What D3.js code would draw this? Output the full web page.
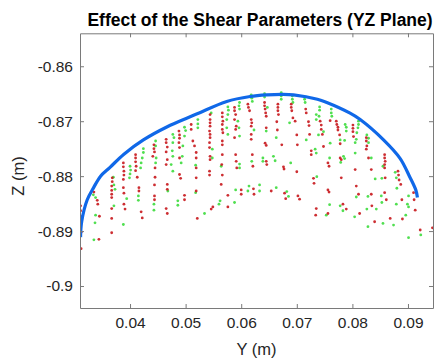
<!DOCTYPE html>
<html>
<head>
<meta charset="utf-8">
<script src="https://cdn.jsdelivr.net/npm/d3@7"></script>
<style>
  body { margin: 0; background: #fff; }
  svg text { font-family: "Liberation Sans", Arial, Helvetica, sans-serif; }
</style>
</head>
<body>
<svg id="chart" width="440" height="362"></svg>
<script>
// Axis ticks and labels
const xTicks = [0.04, 0.05, 0.06, 0.07, 0.08, 0.09];
const xTickLabels = ["0.04", "0.05", "0.06", "0.07", "0.08", "0.09"];
const yTicks = [-0.90, -0.89, -0.88, -0.87, -0.86];
const yTickLabels = ["-0.9", "-0.89", "-0.88", "-0.87", "-0.86"];
const xDomain = [0.031, 0.0945];
const yDomain = [-0.904, -0.854];

// Workspace boundary in the YZ plane, [Y, Z] in metres
const boundary = [
  [0.0311, -0.8911], [0.0313, -0.8883], [0.0323, -0.8843], [0.0335, -0.8820],
  [0.0347, -0.8800], [0.0364, -0.8784], [0.0389, -0.8760], [0.0424, -0.8734],
  [0.0467, -0.8710], [0.0503, -0.8694], [0.0522, -0.8686], [0.0574, -0.8664],
  [0.0616, -0.8655], [0.0646, -0.8652], [0.0675, -0.8651], [0.0694, -0.8652],
  [0.0737, -0.8660], [0.0754, -0.8666], [0.0795, -0.8685], [0.0814, -0.8697],
  [0.0856, -0.8734], [0.0886, -0.8768], [0.0903, -0.8801], [0.0914, -0.8825],
  [0.0917, -0.8839]
];

// Sampled positions, first shear parameter set (red)
const redPoints = [
  [0.0311, -0.8854], [0.0311, -0.8863], [0.0311, -0.8873], [0.0312, -0.8902], [0.0312, -0.8932],
  [0.0335, -0.8829], [0.0341, -0.8844], [0.0342, -0.8851], [0.0345, -0.8873], [0.0344, -0.8915],
  [0.0368, -0.8803], [0.0368, -0.8810], [0.0367, -0.8818], [0.0367, -0.8826], [0.0367, -0.8833],
  [0.0367, -0.8839], [0.0367, -0.8859], [0.0367, -0.8877], [0.0367, -0.8903],
  [0.0388, -0.8776], [0.0388, -0.8783], [0.0389, -0.8791], [0.0389, -0.8798], [0.0388, -0.8806],
  [0.0388, -0.8821], [0.0389, -0.8831], [0.0389, -0.8851], [0.0391, -0.8860],
  [0.0410, -0.8761], [0.0410, -0.8767], [0.0410, -0.8774], [0.0411, -0.8782], [0.0410, -0.8790],
  [0.0413, -0.8802], [0.0416, -0.8821], [0.0416, -0.8827], [0.0420, -0.8865], [0.0422, -0.8876],
  [0.0443, -0.8743], [0.0443, -0.8750], [0.0444, -0.8756], [0.0441, -0.8764], [0.0445, -0.8785],
  [0.0445, -0.8802], [0.0444, -0.8816], [0.0444, -0.8836], [0.0444, -0.8843],
  [0.0465, -0.8733], [0.0465, -0.8739], [0.0467, -0.8747], [0.0465, -0.8756], [0.0467, -0.8770],
  [0.0465, -0.8779], [0.0467, -0.8815], [0.0467, -0.8824], [0.0465, -0.8859], [0.0467, -0.8868],
  [0.0488, -0.8718], [0.0489, -0.8725], [0.0489, -0.8731], [0.0488, -0.8739], [0.0489, -0.8748],
  [0.0489, -0.8767], [0.0489, -0.8797], [0.0491, -0.8804], [0.0498, -0.8835], [0.0498, -0.8843],
  [0.0510, -0.8706], [0.0510, -0.8715], [0.0513, -0.8736], [0.0516, -0.8745], [0.0519, -0.8757],
  [0.0519, -0.8767], [0.0519, -0.8785], [0.0519, -0.8803], [0.0519, -0.8827], [0.0521, -0.8877],
  [0.0544, -0.8688], [0.0544, -0.8697], [0.0544, -0.8703], [0.0544, -0.8709], [0.0543, -0.8718],
  [0.0544, -0.8724], [0.0544, -0.8730], [0.0543, -0.8739], [0.0543, -0.8748], [0.0544, -0.8764],
  [0.0544, -0.8770], [0.0543, -0.8791], [0.0543, -0.8798], [0.0546, -0.8860], [0.0549, -0.8856],
  [0.0566, -0.8685], [0.0566, -0.8692], [0.0567, -0.8700], [0.0566, -0.8706], [0.0566, -0.8715],
  [0.0567, -0.8721], [0.0566, -0.8736], [0.0566, -0.8743], [0.0566, -0.8761], [0.0565, -0.8779],
  [0.0566, -0.8798], [0.0564, -0.8815], [0.0576, -0.8835], [0.0576, -0.8856],
  [0.0588, -0.8675], [0.0588, -0.8681], [0.0590, -0.8688], [0.0588, -0.8697], [0.0591, -0.8709],
  [0.0590, -0.8715], [0.0588, -0.8730], [0.0590, -0.8761], [0.0591, -0.8773], [0.0592, -0.8785],
  [0.0600, -0.8825], [0.0600, -0.8833],
  [0.0612, -0.8669], [0.0613, -0.8675], [0.0615, -0.8681], [0.0618, -0.8697], [0.0619, -0.8703],
  [0.0618, -0.8709], [0.0618, -0.8724], [0.0618, -0.8733], [0.0620, -0.8761], [0.0621, -0.8782],
  [0.0622, -0.8823], [0.0623, -0.8833],
  [0.0642, -0.8666], [0.0642, -0.8672], [0.0643, -0.8678], [0.0644, -0.8685], [0.0645, -0.8691],
  [0.0645, -0.8712], [0.0643, -0.8740], [0.0645, -0.8744], [0.0645, -0.8773], [0.0646, -0.8779],
  [0.0654, -0.8827],
  [0.0666, -0.8669], [0.0666, -0.8675], [0.0666, -0.8681], [0.0667, -0.8688], [0.0664, -0.8701],
  [0.0665, -0.8716], [0.0673, -0.8743], [0.0676, -0.8783], [0.0677, -0.8787], [0.0678, -0.8831],
  [0.0680, -0.8841],
  [0.0690, -0.8669], [0.0690, -0.8675], [0.0691, -0.8681], [0.0693, -0.8694], [0.0697, -0.8700],
  [0.0700, -0.8725], [0.0701, -0.8743], [0.0700, -0.8792], [0.0702, -0.8836], [0.0705, -0.8842],
  [0.0716, -0.8678], [0.0717, -0.8685], [0.0721, -0.8701], [0.0722, -0.8708], [0.0723, -0.8724],
  [0.0726, -0.8754], [0.0726, -0.8761], [0.0730, -0.8804], [0.0731, -0.8813], [0.0735, -0.8859],
  [0.0734, -0.8871],
  [0.0742, -0.8700], [0.0744, -0.8707], [0.0744, -0.8715], [0.0746, -0.8724], [0.0748, -0.8746],
  [0.0756, -0.8776], [0.0758, -0.8782], [0.0756, -0.8825], [0.0758, -0.8829], [0.0756, -0.8868],
  [0.0760, -0.8699], [0.0771, -0.8700], [0.0772, -0.8706], [0.0774, -0.8711], [0.0774, -0.8716],
  [0.0777, -0.8725], [0.0778, -0.8741], [0.0778, -0.8767], [0.0780, -0.8770], [0.0780, -0.8803],
  [0.0783, -0.8851], [0.0789, -0.8860],
  [0.0801, -0.8707], [0.0801, -0.8713], [0.0801, -0.8719], [0.0802, -0.8728], [0.0805, -0.8788],
  [0.0807, -0.8818], [0.0811, -0.8833], [0.0813, -0.8868],
  [0.0825, -0.8730], [0.0825, -0.8736], [0.0826, -0.8745], [0.0825, -0.8751], [0.0829, -0.8767],
  [0.0834, -0.8788], [0.0834, -0.8833], [0.0835, -0.8854], [0.0840, -0.8883],
  [0.0858, -0.8761], [0.0858, -0.8767], [0.0859, -0.8773], [0.0858, -0.8779], [0.0858, -0.8785],
  [0.0859, -0.8803], [0.0858, -0.8830], [0.0861, -0.8843], [0.0868, -0.8877],
  [0.0882, -0.8791], [0.0883, -0.8798], [0.0884, -0.8807], [0.0887, -0.8815], [0.0889, -0.8843],
  [0.0890, -0.8878],
  [0.0910, -0.8830], [0.0911, -0.8843], [0.0913, -0.8862], [0.0922, -0.8898], [0.0944, -0.8894]
];

// Sampled positions, second shear parameter set (green)
const greenPoints = [
  [0.0335, -0.8916], [0.0337, -0.8885], [0.0338, -0.8871], [0.0334, -0.8834], [0.0338, -0.8839],
  [0.0370, -0.8802], [0.0371, -0.8816], [0.0373, -0.8824], [0.0371, -0.8854],
  [0.0388, -0.8888], [0.0394, -0.8841],
  [0.0400, -0.8782], [0.0401, -0.8789], [0.0400, -0.8796], [0.0399, -0.8803],
  [0.0424, -0.8750], [0.0424, -0.8757], [0.0422, -0.8767], [0.0420, -0.8776], [0.0419, -0.8785],
  [0.0415, -0.8836], [0.0415, -0.8844],
  [0.0446, -0.8736], [0.0446, -0.8745], [0.0447, -0.8767], [0.0446, -0.8776], [0.0443, -0.8851],
  [0.0443, -0.8862],
  [0.0477, -0.8724], [0.0479, -0.8730], [0.0477, -0.8739], [0.0476, -0.8754], [0.0477, -0.8764],
  [0.0474, -0.8779], [0.0477, -0.8791], [0.0468, -0.8827],
  [0.0498, -0.8711], [0.0500, -0.8717], [0.0498, -0.8727], [0.0495, -0.8745], [0.0494, -0.8764],
  [0.0492, -0.8776], [0.0486, -0.8845], [0.0486, -0.8853],
  [0.0522, -0.8697], [0.0522, -0.8705], [0.0522, -0.8712], [0.0518, -0.8780], [0.0518, -0.8830],
  [0.0534, -0.8868],
  [0.0546, -0.8685], [0.0548, -0.8751], [0.0548, -0.8767], [0.0560, -0.8851], [0.0562, -0.8845],
  [0.0576, -0.8674], [0.0577, -0.8680], [0.0576, -0.8688], [0.0574, -0.8697], [0.0574, -0.8712],
  [0.0576, -0.8724], [0.0564, -0.8782], [0.0588, -0.8848], [0.0590, -0.8825],
  [0.0597, -0.8666], [0.0596, -0.8672], [0.0597, -0.8678], [0.0594, -0.8700], [0.0596, -0.8712],
  [0.0597, -0.8727], [0.0597, -0.8778], [0.0597, -0.8785],
  [0.0612, -0.8827], [0.0614, -0.8818], [0.0619, -0.8773], [0.0618, -0.8652], [0.0619, -0.8658],
  [0.0620, -0.8664], [0.0623, -0.8716],
  [0.0633, -0.8816], [0.0633, -0.8827], [0.0639, -0.8767], [0.0639, -0.8773],
  [0.0642, -0.8650], [0.0642, -0.8656], [0.0647, -0.8675], [0.0645, -0.8718],
  [0.0658, -0.8764], [0.0661, -0.8772], [0.0663, -0.8730], [0.0663, -0.8821],
  [0.0672, -0.8648], [0.0672, -0.8654], [0.0672, -0.8660],
  [0.0682, -0.8828], [0.0685, -0.8837], [0.0687, -0.8703], [0.0689, -0.8776],
  [0.0692, -0.8654], [0.0692, -0.8660], [0.0693, -0.8666],
  [0.0714, -0.8660], [0.0715, -0.8666], [0.0717, -0.8734],
  [0.0735, -0.8688], [0.0735, -0.8697], [0.0733, -0.8751], [0.0735, -0.8758], [0.0736, -0.8801],
  [0.0741, -0.8674], [0.0741, -0.8680], [0.0740, -0.8691], [0.0739, -0.8725], [0.0748, -0.8719],
  [0.0753, -0.8871], [0.0759, -0.8767], [0.0759, -0.8852],
  [0.0762, -0.8678], [0.0762, -0.8685], [0.0763, -0.8691], [0.0760, -0.8740],
  [0.0778, -0.8734], [0.0779, -0.8775], [0.0778, -0.8854], [0.0783, -0.8863], [0.0784, -0.8764],
  [0.0786, -0.8768], [0.0786, -0.8735], [0.0787, -0.8706], [0.0789, -0.8711], [0.0789, -0.8718],
  [0.0805, -0.8758], [0.0804, -0.8874], [0.0807, -0.8838], [0.0807, -0.8733], [0.0805, -0.8739],
  [0.0811, -0.8700], [0.0811, -0.8706], [0.0810, -0.8712], [0.0808, -0.8721],
  [0.0826, -0.8725], [0.0829, -0.8731], [0.0829, -0.8739], [0.0828, -0.8837], [0.0826, -0.8860],
  [0.0828, -0.8892], [0.0834, -0.8767], [0.0841, -0.8805], [0.0843, -0.8860],
  [0.0853, -0.8804], [0.0855, -0.8782], [0.0852, -0.8836], [0.0853, -0.8848], [0.0855, -0.8886],
  [0.0874, -0.8889], [0.0877, -0.8793], [0.0879, -0.8803], [0.0880, -0.8822], [0.0879, -0.8851],
  [0.0896, -0.8871], [0.0901, -0.8836], [0.0899, -0.8851], [0.0901, -0.8856], [0.0901, -0.8912],
  [0.0923, -0.8907]
];

const W = 440, H = 362;
const margin = { top: 33.3, right: 7, bottom: 54, left: 80 };
const svg = d3.select("#chart");

svg.append("rect").attr("width", W).attr("height", H).attr("fill", "#fff");

const x = d3.scaleLinear().domain(xDomain).range([margin.left, W - margin.right]);
const y = d3.scaleLinear().domain(yDomain).range([H - margin.bottom, margin.top]);

svg.append("defs").append("clipPath").attr("id", "plot-area")
  .append("rect")
  .attr("x", margin.left).attr("y", margin.top)
  .attr("width", W - margin.left - margin.right)
  .attr("height", H - margin.top - margin.bottom);

const plot = svg.append("g").attr("clip-path", "url(#plot-area)");

// scattered samples
plot.append("g").selectAll("circle").data(greenPoints).join("circle")
  .attr("cx", d => x(d[0])).attr("cy", d => y(d[1]))
  .attr("r", 1.4).attr("fill", "#3ddc3d").attr("opacity", 0.9);

plot.append("g").selectAll("circle").data(redPoints).join("circle")
  .attr("cx", d => x(d[0])).attr("cy", d => y(d[1]))
  .attr("r", 1.4).attr("fill", "#c8171c").attr("opacity", 0.9);

// boundary curve
plot.append("path").datum(boundary)
  .attr("fill", "none").attr("stroke", "#1068e8").attr("stroke-width", 3.2)
  .attr("stroke-linecap", "butt")
  .attr("d", d3.line().x(d => x(d[0])).y(d => y(d[1])).curve(d3.curveCatmullRom.alpha(0.5)));

// axes, MATLAB-style box with inward ticks
const axisColor = "#7a7a7a";
const fontSize = "15.5px";

function styleAxis(g) {
  g.select(".domain").attr("stroke", axisColor).attr("stroke-width", 1);
  g.selectAll(".tick line").attr("stroke", axisColor).attr("stroke-width", 1);
  g.selectAll(".tick text").attr("fill", "#262626").style("font-size", fontSize);
}

svg.append("g")
  .attr("transform", `translate(0,${H - margin.bottom})`)
  .call(d3.axisBottom(x).tickValues(xTicks).tickFormat((d, i) => xTickLabels[i])
    .tickSizeInner(-4).tickSizeOuter(0).tickPadding(9))
  .call(styleAxis);

svg.append("g")
  .attr("transform", `translate(0,${margin.top})`)
  .call(d3.axisTop(x).tickValues(xTicks).tickFormat("")
    .tickSizeInner(-4).tickSizeOuter(0))
  .call(styleAxis);

svg.append("g")
  .attr("transform", `translate(${margin.left},0)`)
  .call(d3.axisLeft(y).tickValues(yTicks).tickFormat((d, i) => yTickLabels[i])
    .tickSizeInner(-4).tickSizeOuter(0).tickPadding(7))
  .call(styleAxis);

svg.append("g")
  .attr("transform", `translate(${W - margin.right},0)`)
  .call(d3.axisRight(y).tickValues(yTicks).tickFormat("")
    .tickSizeInner(-4).tickSizeOuter(0))
  .call(styleAxis);

// title and axis labels
svg.append("text")
  .attr("x", 260).attr("y", 26)
  .attr("text-anchor", "middle")
  .style("font-size", "17.5px").style("font-weight", "bold").attr("fill", "#000")
  .text("Effect of the Shear Parameters (YZ Plane)");

svg.append("text")
  .attr("x", (margin.left + W - margin.right) / 2).attr("y", 355)
  .attr("text-anchor", "middle")
  .style("font-size", "16.5px").attr("fill", "#262626")
  .text("Y (m)");

svg.append("text")
  .attr("transform", `translate(24,176) rotate(-90)`)
  .attr("text-anchor", "middle")
  .style("font-size", "16.5px").attr("fill", "#262626")
  .text("Z (m)");
</script>
</body>
</html>
